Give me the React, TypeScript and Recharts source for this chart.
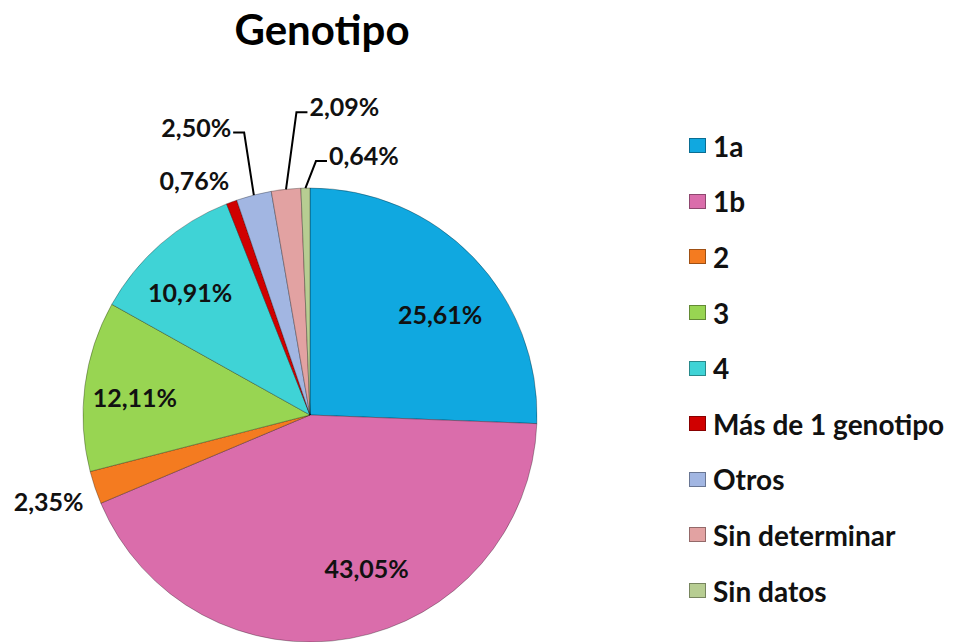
import React from 'react';
import { PieChart, Pie, Cell, Legend } from 'recharts';

const categories = ['1a', '1b', '2', '3', '4', 'Más de 1 genotipo', 'Otros', 'Sin determinar', 'Sin datos'];
const percentages = [25.61, 43.05, 2.35, 12.11, 10.91, 0.76, 2.5, 2.09, 0.64];
const colors = ['#10A8E0', '#DA6DAB', '#F47B20', '#98D552', '#3FD3D6', '#D00000', '#A2B6E2', '#E2A2A2', '#B7CD92'];

const FONT = 'Lato, "Open Sans", sans-serif';

// where each percentage label sits (radius in px, angle shift in degrees)
// leader: draws an elbow line from the slice edge, dir = side of the text
const labelLayout: any[] = [
  { r: 165, shift: -6 },
  { r: 163, shift: 10 },
  { r: 275, shift: -0.5 },
  { r: 176, shift: 1.5 },
  { r: 172, shift: 3 },
  { r: 262, shift: 6 },
  { r: 290, shift: -1.2, leader: true, dir: -1 },
  { r: 303, shift: -3.5, leader: true, dir: 1 },
  { r: 254, shift: -2.5, leader: true, dir: 1 }
];

const data = categories.map((name, i) => ({ name, value: percentages[i], color: colors[i] }));

const fmt = (v: number) => v.toFixed(2).replace('.', ',') + '%';

const RADIAN = Math.PI / 180;
const renderLabel = ({ cx, cy, midAngle, outerRadius, index, value }: any) => {
  const cfg = labelLayout[index];
  const ang = (midAngle + cfg.shift) * RADIAN;
  const x = cx + cfg.r * Math.cos(-ang);
  const y = cy + cfg.r * Math.sin(-ang);
  const style = { fontFamily: FONT, fontWeight: 700, fontSize: 25 };
  if (!cfg.leader) {
    return (
      <text x={x} y={y} fill="#111" textAnchor="middle" dominantBaseline="central" style={style}>
        {fmt(value)}
      </text>
    );
  }
  const sx = cx + outerRadius * Math.cos(-midAngle * RADIAN);
  const sy = cy + outerRadius * Math.sin(-midAngle * RADIAN);
  const ex = x + cfg.dir * 11;
  return (
    <g>
      <polyline points={`${sx},${sy} ${x},${y} ${ex},${y}`} fill="none" stroke="#000" strokeWidth={2} />
      <text
        x={ex + cfg.dir * 2}
        y={y - 6}
        fill="#111"
        textAnchor={cfg.dir > 0 ? 'start' : 'end'}
        dominantBaseline="central"
        style={style}
      >
        {fmt(value)}
      </text>
    </g>
  );
};

const renderLegend = () => (
  <div style={{ fontFamily: FONT, fontWeight: 700, fontSize: 28, color: '#111' }}>
    {data.map((d) => (
      <div key={d.name} style={{ height: 55.6, display: 'flex', alignItems: 'center' }}>
        <span
          style={{
            display: 'inline-block',
            width: 15,
            height: 13,
            background: d.color,
            border: '1px solid rgba(0,0,0,0.35)',
            marginRight: 7
          }}
        />
        <span>{d.name}</span>
      </div>
    ))}
  </div>
);

export default function App() {
  return (
    <div style={{ position: 'absolute', left: 0, top: 0, width: 953, height: 642, background: '#fff' }}>
      <div
        style={{
          position: 'absolute',
          left: 0,
          top: 4,
          width: 644,
          textAlign: 'center',
          fontFamily: FONT,
          fontWeight: 700,
          fontSize: 42,
          color: '#000'
        }}
      >
        Genotipo
      </div>
      <PieChart width={953} height={642}>
        <Pie
          data={data}
          dataKey="value"
          nameKey="name"
          cx={305}
          cy={410}
          outerRadius={227}
          startAngle={90}
          endAngle={-270}
          stroke="rgba(0,0,0,0.3)"
          strokeWidth={1}
          label={renderLabel}
          labelLine={false}
          isAnimationActive={false}
        >
          {data.map((entry, index) => (
            <Cell key={`cell-${index}`} fill={entry.color} />
          ))}
        </Pie>
        <Legend
          layout="vertical"
          align="right"
          verticalAlign="top"
          content={renderLegend}
          wrapperStyle={{ position: 'absolute', left: 689, top: 118, width: 264 }}
        />
      </PieChart>
    </div>
  );
}
